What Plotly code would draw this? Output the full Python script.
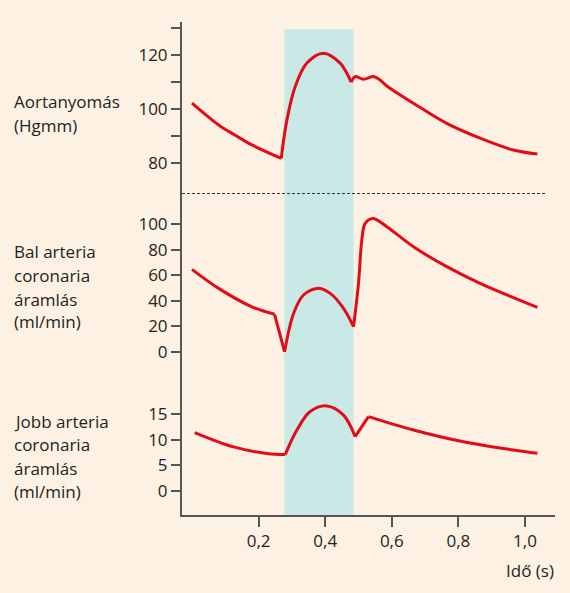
import plotly.graph_objects as go

# ---- data ----
aorta_t = [0.0, 0.08, 0.13, 0.18, 0.268, 0.285, 0.31, 0.345, 0.395, 0.445, 0.465, 0.478,
           0.49, 0.515, 0.545, 0.565, 0.585, 0.665, 0.765, 0.865, 0.965, 1.037]
aorta_p = [102.1, 94.0, 90.2, 86.6, 81.6, 95.9, 108.3, 117, 120.7, 117, 113.2, 109.9,
           112, 111, 112, 110.7, 108.5, 102.1, 94.6, 89.1, 84.7, 83.2]
aorta_corners = [4, 11]

left_t = [0.0, 0.08, 0.18, 0.248, 0.278, 0.305, 0.335, 0.377, 0.415, 0.455, 0.485,
          0.5, 0.51, 0.52, 0.543, 0.585, 0.665, 0.765, 0.865, 1.037]
left_f = [64.5, 49.6, 35.2, 29.3, 0, 30, 44.4, 49.6, 45.7, 34, 19.6,
          53.6, 87.5, 100.5, 104.4, 97.9, 82.2, 66.6, 53.6, 34.8]
left_corners = [3, 4, 10]

right_t = [0.008, 0.125, 0.225, 0.28, 0.315, 0.355, 0.405, 0.455, 0.49, 0.53,
           0.665, 0.815, 0.965, 1.037]
right_f = [11.4, 8.6, 7.3, 7.1, 11.9, 15.5, 16.6, 14.8, 10.6, 14.5,
           11.9, 9.6, 8.0, 7.35]
right_corners = [3, 8, 9]

systole_start, systole_end = 0.277, 0.485

x_ticks = [0.2, 0.4, 0.6, 0.8, 1.0]
x_ticktext = ["0,2", "0,4", "0,6", "0,8", "1,0"]
y1_ticks = [80, 90, 100, 110, 120, 130]
y1_ticktext = ["80", "", "100", "", "120", ""]
y2_ticks = [0, 20, 40, 60, 80, 100]
y3_ticks = [0, 5, 10, 15]

labels1 = ["Aortanyomás", "(Hgmm)"]
labels2 = ["Bal arteria", "coronaria", "áramlás", "(ml/min)"]
labels3 = ["Jobb arteria", "coronaria", "áramlás", "(ml/min)"]

# ---- style ----
BG = "#fdf1e3"
BAND = "#c8e9e6"
RED = "#e30b17"
AX = "#555555"
TXT = "#231f20"
FONT = "Open Sans"
FS = 17

fig = go.Figure()


def add_series(t, v, corners, yaxis):
    cuts = [0] + corners + [len(t) - 1]
    for a, b in zip(cuts[:-1], cuts[1:]):
        fig.add_trace(go.Scatter(
            x=t[a:b + 1], y=v[a:b + 1], mode="lines", xaxis="x", yaxis=yaxis,
            line=dict(color=RED, width=3, shape="spline", smoothing=1.0),
            hoverinfo="skip", showlegend=False))


add_series(aorta_t, aorta_p, aorta_corners, "y")
add_series(left_t, left_f, left_corners, "y2")
add_series(right_t, right_f, right_corners, "y3")

H = 493.0
BOTTOM = 515.0


def py2paper(py):
    return (BOTTOM - py) / H


yax_common = dict(showline=True, linecolor=AX, linewidth=2, ticks="outside", ticklen=9,
                  tickwidth=1.5, tickcolor=AX, showgrid=False, zeroline=False,
                  tickfont=dict(family=FONT, size=FS, color=TXT), anchor="x",
                  fixedrange=True)

fig.update_layout(
    width=570, height=593,
    margin=dict(l=182, r=15, t=22, b=78),
    paper_bgcolor=BG, plot_bgcolor=BG,
    showlegend=False,
    xaxis=dict(range=[-0.03, 1.09], domain=[0, 1], anchor="y3", showline=True,
               linecolor=AX, linewidth=2, ticks="outside", ticklen=10, tickwidth=1.5,
               tickcolor=AX, tickvals=x_ticks, ticktext=x_ticktext, showgrid=False,
               zeroline=False, tickfont=dict(family=FONT, size=FS, color=TXT),
               fixedrange=True),
    yaxis=dict(domain=[py2paper(200), 1.0], range=[66.15, 132.26],
               tickvals=y1_ticks, ticktext=y1_ticktext, **yax_common),
    yaxis2=dict(domain=[py2paper(370), py2paper(200)], range=[-14.3, 118.8],
                tickvals=y2_ticks, **yax_common),
    yaxis3=dict(domain=[0, py2paper(370)], range=[-4.68, 23.6],
                tickvals=y3_ticks, **yax_common),
)

# systole band
fig.add_shape(type="rect", xref="x", yref="paper", x0=systole_start, x1=systole_end,
              y0=0, y1=py2paper(29.3), fillcolor=BAND, line=dict(width=0), layer="below")
# dotted separator
fig.add_shape(type="line", xref="paper", yref="paper", x0=0, x1=(547 - 182) / 373.0,
              y0=py2paper(193.5), y1=py2paper(193.5),
              line=dict(color="#333333", width=1.2, dash="3px,2px"))

LX = (12 - 182) / 373.0
for lines, centers in [(labels1, [101, 125]),
                       (labels2, [251, 275.5, 299, 322]),
                       (labels3, [421, 444.7, 468, 491])]:
    for txt, cy in zip(lines, centers):
        fig.add_annotation(text=txt, xref="paper", yref="paper", x=LX, y=py2paper(cy),
                           xanchor="left", yanchor="middle", showarrow=False,
                           font=dict(family=FONT, size=FS, color=TXT))

fig.add_annotation(text="Idő (s)", xref="paper", yref="paper", x=(530 - 182) / 373.0,
                   y=py2paper(570), xanchor="center", yanchor="middle", showarrow=False,
                   font=dict(family=FONT, size=FS, color=TXT))

fig.write_html("out.html", config={"displayModeBar": False},
               post_script="document.body.style.margin='0';document.body.style.padding='0';")
